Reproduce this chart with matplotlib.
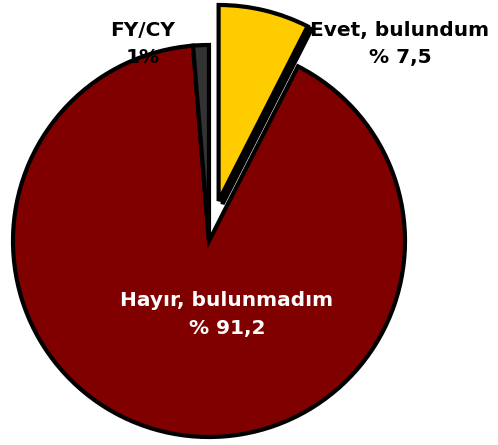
import matplotlib.pyplot as plt
from matplotlib.patches import Wedge

labels = ['Evet, bulundum\n% 7,5', 'Hayır, bulunmadım\n% 91,2', 'FY/CY\n1%']
values = [7.5, 91.2, 1.3]
colors = ['#FFCC00', '#800000', '#333333']
explode = [0.21, 0, 0]

fig = plt.figure(figsize=(4.98, 4.45), dpi=100)
ax = fig.add_axes([0, 0, 1, 1])

wedges, _ = ax.pie(values, colors=colors, explode=explode, startangle=90,
                   counterclock=False, radius=1,
                   wedgeprops=dict(edgecolor='black', linewidth=3))

r = 196.0
# dark shadow behind the exploded slice
w = wedges[0]
cx, cy = w.center
shadow = Wedge((cx + 4 / r, cy - 3 / r), w.r, w.theta1, w.theta2,
               facecolor='black', edgecolor='black', linewidth=3, zorder=w.get_zorder() - 0.5)
ax.add_patch(shadow)

ax.set_xlim(-209 / r, (498 - 209) / r)
ax.set_ylim(-204 / r, (445 - 204) / r)
ax.set_aspect('equal')
ax.axis('off')

font = dict(fontweight='bold', ha='center', va='center', family='DejaVu Sans',
            fontsize=14.5, linespacing=1.55)
ax.text(0.974, 1.005, labels[0], color='black', **font)
ax.text(0.092, -0.375, labels[1], color='white', **font)
ax.text(-0.337, 1.005, labels[2], color='black', **font)

fig.savefig('out.png', dpi=100)
